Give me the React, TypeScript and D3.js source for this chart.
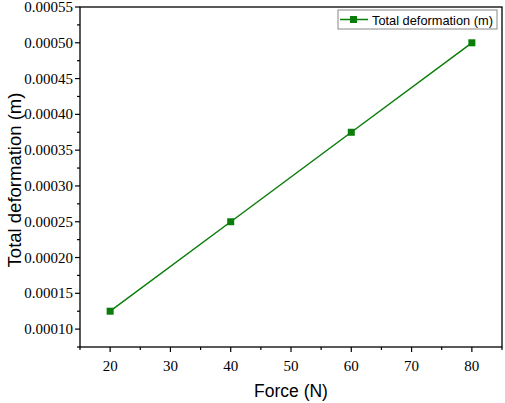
import React from "react";
import * as d3 from "d3";

const forces = [20, 40, 60, 80];
const deformation = [0.000125, 0.00025, 0.000375, 0.0005];
const xTicks = [20, 30, 40, 50, 60, 70, 80];
const xMinor = [15, 25, 35, 45, 55, 65, 75, 85];
const yTicks = [0.0001, 0.00015, 0.0002, 0.00025, 0.0003, 0.00035, 0.0004, 0.00045, 0.0005, 0.00055];
const yMinor = [0.000075, 0.000125, 0.000175, 0.000225, 0.000275, 0.000325, 0.000375, 0.000425, 0.000475, 0.000525];
const seriesName = "Total deformation (m)";

export default function App() {
  const W = 505, H = 403;
  const L = 80, R = 502, T = 7, B = 347;
  const x = d3.scaleLinear().domain([15, 85]).range([L, R]);
  const y = d3.scaleLinear().domain([0.000075, 0.00055]).range([B, T]);
  const line = d3.line<number>().x((_, i) => x(forces[i])).y((d) => y(d));
  const green = "#0a7d0a";
  const serif = "Liberation Serif";
  const sans = "Liberation Sans";
  return (
    <svg width={W} height={H} style={{ position: "absolute", left: 0, top: 0 }}>
      <rect x={0} y={0} width={W} height={H} fill="#fff" />
      <rect x={L} y={T} width={R - L} height={B - T} fill="none" stroke="#000" strokeWidth={1.3} />
      {xTicks.map((t) => (
        <g key={"x" + t}>
          <line x1={x(t)} x2={x(t)} y1={B} y2={B + 5} stroke="#000" strokeWidth={1.2} />
          <text x={x(t)} y={371} textAnchor="middle" fontFamily={serif} fontSize={15}>{t}</text>
        </g>
      ))}
      {xMinor.map((t) => (
        <line key={"xm" + t} x1={x(t)} x2={x(t)} y1={B} y2={B + 3} stroke="#000" strokeWidth={1.2} />
      ))}
      {yTicks.map((t) => (
        <g key={"y" + t}>
          <line x1={L - 5} x2={L} y1={y(t)} y2={y(t)} stroke="#000" strokeWidth={1.2} />
          <text x={73} y={y(t) + 5} textAnchor="end" fontFamily={serif} fontSize={15}>{t.toFixed(5)}</text>
        </g>
      ))}
      {yMinor.map((t) => (
        <line key={"ym" + t} x1={L - 3} x2={L} y1={y(t)} y2={y(t)} stroke="#000" strokeWidth={1.2} />
      ))}
      <path d={line(deformation) || ""} fill="none" stroke={green} strokeWidth={1.5} />
      {deformation.map((d, i) => (
        <rect key={i} x={x(forces[i]) - 3.5} y={y(d) - 3.5} width={7} height={7} fill={green} />
      ))}
      <text x={(L + R) / 2} y={397} textAnchor="middle" fontFamily={sans} fontSize={17.5}>Force (N)</text>
      <text transform="translate(21, 180) rotate(-90)" textAnchor="middle" fontFamily={sans} fontSize={18.5}>Total deformation (m)</text>
      <g>
        <rect x={338} y={10} width={159} height={19} fill="#fff" stroke="#888" strokeWidth={1} />
        <line x1={340} x2={368} y1={19.5} y2={19.5} stroke={green} strokeWidth={1.5} />
        <rect x={350} y={16} width={7} height={7} fill={green} />
        <text x={372} y={25} fontFamily={sans} fontSize={12.8}>{seriesName}</text>
      </g>
    </svg>
  );
}
